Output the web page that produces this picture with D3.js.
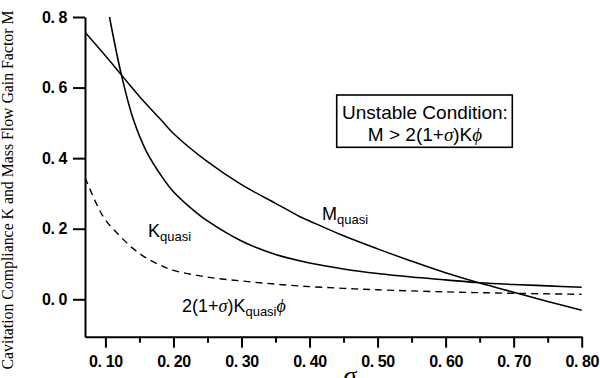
<!DOCTYPE html>
<html>
<head>
<meta charset="utf-8">
<script src="https://cdn.jsdelivr.net/npm/d3@7"></script>
<style>
  body { margin: 0; background: #fff; }
  svg { display: block; }
  .tick text { font-family: "Liberation Sans", Arial, sans-serif; font-weight: bold; font-size: 16px; letter-spacing: -0.4px; fill: #000; }
</style>
</head>
<body>
<svg width="600" height="378"></svg>
<script>
// sigma values and curves
var mSigma = [0.07, 0.10, 0.1235, 0.15, 0.182, 0.20, 0.25, 0.30, 0.35, 0.386, 0.40, 0.45, 0.50, 0.55, 0.60, 0.65, 0.70, 0.75, 0.80];
var mQuasi = [0.757, 0.69, 0.636, 0.575, 0.508, 0.47, 0.39, 0.325, 0.272, 0.234, 0.222, 0.180, 0.143, 0.108, 0.075, 0.046, 0.020, -0.006, -0.031];

var kSigma = [0.106, 0.1235, 0.141, 0.16, 0.185, 0.20, 0.234, 0.25, 0.30, 0.35, 0.40, 0.45, 0.50, 0.55, 0.60, 0.65, 0.70, 0.75, 0.80];
var kQuasi = [0.80, 0.636, 0.51, 0.42, 0.342, 0.305, 0.245, 0.222, 0.165, 0.127, 0.103, 0.086, 0.073, 0.063, 0.055, 0.047, 0.042, 0.038, 0.034];

var dSigma = [0.07, 0.08, 0.09, 0.10, 0.12, 0.14, 0.16, 0.18, 0.20, 0.25, 0.30, 0.35, 0.40, 0.45, 0.50, 0.60, 0.70, 0.80];
var dQuasi = [0.345, 0.30, 0.258, 0.225, 0.182, 0.145, 0.117, 0.097, 0.082, 0.063, 0.052, 0.043, 0.036, 0.031, 0.027, 0.021, 0.017, 0.014];

var xMajor = [0.10, 0.20, 0.30, 0.40, 0.50, 0.60, 0.70, 0.80];
var xMinor = [0.15, 0.25, 0.35, 0.45, 0.55, 0.65, 0.75];
var yMajor = [0.0, 0.2, 0.4, 0.6, 0.8];

var svg = d3.select("svg");

var x = d3.scaleLinear().domain([0.07, 0.80]).range([85, 581.7]);
var y = d3.scaleLinear().domain([-0.106, 0.80]).range([336.7, 17]);

svg.append("clipPath").attr("id", "plot")
  .append("rect").attr("x", 85).attr("y", 17).attr("width", 497).attr("height", 320);

function pts(xs, ys) {
  return xs.map(function(s, i) { return [s, ys[i]]; });
}

var line = d3.line()
    .x(function(d) { return x(d[0]); })
    .y(function(d) { return y(d[1]); })
    .curve(d3.curveCatmullRom.alpha(0.5));

var curves = svg.append("g").attr("clip-path", "url(#plot)");

curves.append("path")
    .attr("d", line(pts(mSigma, mQuasi)))
    .attr("fill", "none").attr("stroke", "#000").attr("stroke-width", 1.5);

curves.append("path")
    .attr("d", line(pts(kSigma, kQuasi)))
    .attr("fill", "none").attr("stroke", "#000").attr("stroke-width", 1.6);

curves.append("path")
    .attr("d", line(pts(dSigma, dQuasi)))
    .attr("fill", "none").attr("stroke", "#000").attr("stroke-width", 1.4)
    .style("stroke-dasharray", "7, 5");

// axes
var fmt = function(f) { return function(d) { return d3.format(f)(d).replace(".", ". "); }; };

svg.append("g")
    .attr("transform", "translate(85,0)")
    .call(d3.axisLeft(y).tickValues(yMajor).tickSize(12).tickSizeOuter(0).tickPadding(6).tickFormat(fmt(".1f")));

svg.append("g")
    .attr("transform", "translate(0,336.7)")
    .call(d3.axisBottom(x).tickValues(xMajor).tickSize(11).tickSizeOuter(0).tickPadding(8).tickFormat(fmt(".2f")));

svg.append("g")
    .attr("transform", "translate(0,336.7)")
    .call(d3.axisBottom(x).tickValues(xMinor).tickSize(6).tickSizeOuter(0).tickFormat(""))
    .select(".domain").remove();

svg.selectAll(".domain").attr("stroke", "#000").attr("stroke-width", 2);
svg.selectAll(".tick line").attr("stroke", "#000").attr("stroke-width", 2);

// axis titles
svg.append("text")
    .attr("transform", "translate(13,190) rotate(-90)")
    .attr("text-anchor", "middle")
    .style("font-family", "'Liberation Serif', 'Times New Roman', serif")
    .style("font-size", "15.8px")
    .text("Cavitation Compliance K and Mass Flow Gain Factor M");

svg.append("text")
    .attr("x", 350).attr("y", 384)
    .attr("text-anchor", "middle")
    .style("font-family", "'Liberation Serif', serif")
    .style("font-style", "italic")
    .style("font-size", "26px")
    .text("σ");

// curve labels
var sans = "'Liberation Sans', Arial, sans-serif";
var serif = "'Liberation Serif', 'DejaVu Serif', serif";

function label(px, py, main, sub, tail) {
  var t = svg.append("text").attr("x", px).attr("y", py)
      .style("font-family", sans).style("font-size", "18px");
  main.forEach(function(m) {
    t.append("tspan").style("font-style", m[1] ? "italic" : null)
      .style("font-family", m[1] ? serif : null)
      .text(m[0]);
  });
  t.append("tspan").attr("dy", 4).style("font-size", "13px").text(sub);
  if (tail) {
    t.append("tspan").attr("dy", -4)
      .style("font-style", "italic").style("font-family", serif)
      .text(tail);
  }
}

label(148, 237, [["K"]], "quasi");
label(322, 220, [["M"]], "quasi");
label(182, 312, [["2(1+"], ["σ", true], [")K"]], "quasi", "ϕ");

// unstable condition box
svg.append("rect")
    .attr("x", 336.7).attr("y", 95).attr("width", 175.6).attr("height", 52.3)
    .attr("fill", "#fff").attr("stroke", "#000").attr("stroke-width", 1.6);

svg.append("text")
    .attr("x", 425).attr("y", 118.5)
    .attr("text-anchor", "middle")
    .style("font-family", sans).style("font-size", "19px")
    .text("Unstable Condition:");

var cond = svg.append("text")
    .attr("x", 425).attr("y", 140.5)
    .attr("text-anchor", "middle")
    .style("font-family", sans).style("font-size", "19px");
cond.append("tspan").text("M > 2(1+");
cond.append("tspan").style("font-style", "italic").style("font-family", serif).text("σ");
cond.append("tspan").text(")K");
cond.append("tspan").style("font-style", "italic").style("font-family", serif).text("ϕ");
</script>
</body>
</html>
